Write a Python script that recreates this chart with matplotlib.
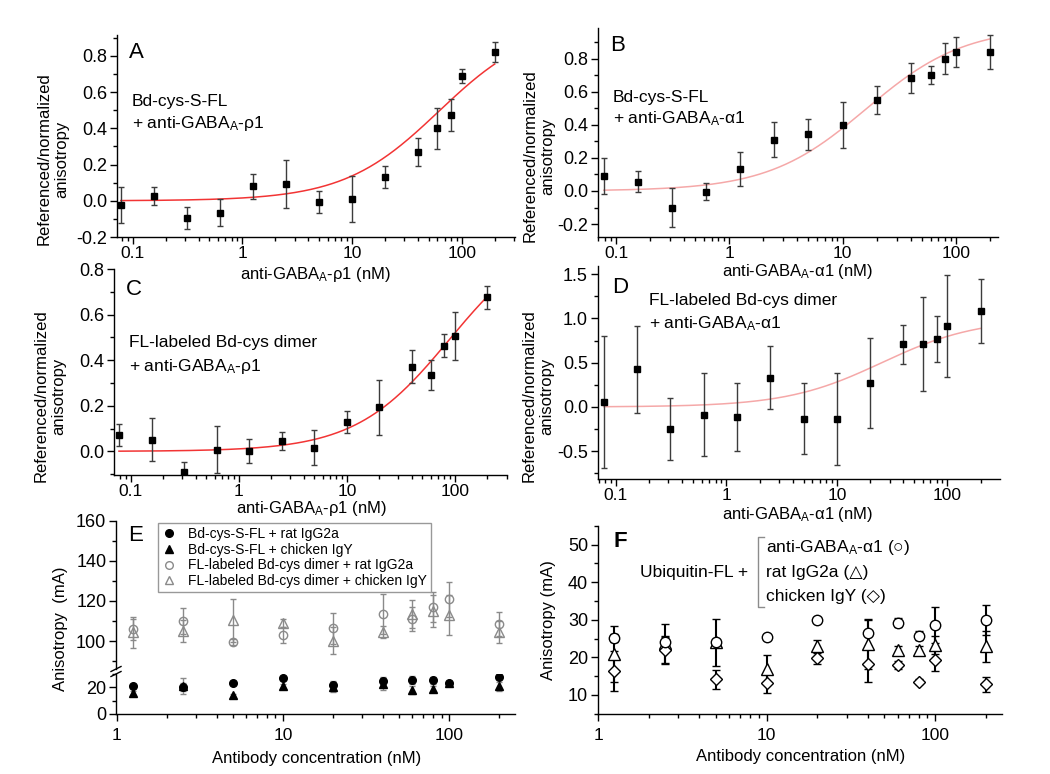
import numpy as np
import matplotlib
matplotlib.use('Agg')
import matplotlib.pyplot as plt
from matplotlib.ticker import FixedLocator, FixedFormatter, MultipleLocator, LogLocator, NullFormatter
from matplotlib.lines import Line2D

plt.rcParams['font.family'] = ['Liberation Sans', 'DejaVu Sans']
plt.rcParams['mathtext.fontset'] = 'custom'
plt.rcParams['mathtext.rm'] = 'Liberation Sans'
plt.rcParams['mathtext.it'] = 'Liberation Sans:italic'
plt.rcParams['axes.linewidth'] = 1.0

# ---------------- data ----------------
conc_titr = [0.078, 0.156, 0.3125, 0.625, 1.25, 2.5, 5, 10, 20, 40, 60, 80, 100, 200]

a_val = [-0.023, 0.029, -0.095, -0.065, 0.080, 0.093, -0.006, 0.010, 0.132, 0.270, 0.400, 0.475, 0.689, 0.822]
a_err = [0.100, 0.050, 0.060, 0.075, 0.068, 0.133, 0.060, 0.125, 0.060, 0.077, 0.113, 0.087, 0.040, 0.057]
a_fit = (0.99, 62.0)   # Bmax, Kd (nM)

b_val = [0.092, 0.056, -0.101, -0.004, 0.133, 0.310, 0.342, 0.399, 0.550, 0.683, 0.703, 0.800, 0.840, 0.840]
b_err = [0.110, 0.063, 0.117, 0.050, 0.100, 0.105, 0.095, 0.137, 0.083, 0.090, 0.055, 0.095, 0.089, 0.105]
b_fit = (0.993, 16.2)

c_val = [0.073, 0.051, -0.089, 0.007, 0.003, 0.045, 0.016, 0.130, 0.193, 0.371, 0.336, 0.464, 0.506, 0.676]
c_err = [0.048, 0.094, 0.041, 0.104, 0.053, 0.038, 0.078, 0.048, 0.121, 0.072, 0.066, 0.052, 0.107, 0.051]
c_fit = (0.984, 89.4)

d_val = [0.056, 0.425, -0.252, -0.086, -0.109, 0.331, -0.135, -0.132, 0.267, 0.707, 0.711, 0.771, 0.910, 1.083]
d_err = [0.750, 0.490, 0.350, 0.470, 0.383, 0.353, 0.400, 0.520, 0.507, 0.218, 0.530, 0.260, 0.575, 0.357]
d_fit = (1.0, 25.5)

conc_ctrl = [1.25, 2.5, 5, 10, 20, 40, 60, 80, 100, 200]

e_s_rat = [21.3, 20.5, 23.5, 26.8, 22.0, 24.5, 25.8, 25.3, 23.0, 27.5]
e_s_rat_err = [1.5, 3.0, 1.5, 1.5, 3.0, 3.0, 3.0, 2.5, 1.5, 1.5]
e_s_chk = [15.8, 21.3, 14.0, 20.8, 20.3, 22.3, 18.0, 18.8, 23.5, 20.8]
e_s_chk_err = [1.5, 6.0, 1.0, 1.5, 3.5, 4.5, 3.0, 2.0, 1.5, 3.5]
e_d_rat = [105.8, 110.0, 99.5, 103.0, 106.3, 113.3, 110.8, 117.1, 120.8, 108.5]
e_d_rat_err = [5.0, 6.3, 1.5, 4.0, 7.5, 10.0, 6.0, 7.5, 8.6, 6.1]
e_d_chk = [104.3, 105.0, 110.3, 108.8, 100.2, 104.5, 113.3, 115.0, 113.0, 104.5]
e_d_chk_err = [7.5, 5.5, 10.5, 2.0, 6.8, 3.0, 7.0, 8.0, 10.0, 5.3]

f_anti = [25.2, 24.0, 24.0, 25.3, 30.0, 26.4, 29.2, 25.7, 28.7, 30.0]
f_anti_err = [1.0, 1.5, 1.0, 0.8, 0.8, 3.5, 1.2, 1.2, 4.8, 4.0]
f_rat = [20.8, 23.7, 24.0, 17.0, 23.1, 23.5, 21.9, 22.0, 23.3, 22.9]
f_rat_err = [7.4, 5.1, 6.3, 3.5, 1.6, 6.7, 1.0, 1.0, 2.3, 4.1]
f_chk = [16.4, 21.9, 14.1, 13.2, 19.7, 18.2, 17.9, 13.5, 19.3, 12.8]
f_chk_err = [5.3, 3.8, 2.4, 2.7, 1.5, 4.8, 1.0, 0.7, 3.0, 1.9]

W, H = 1050, 774
fig = plt.figure(figsize=(W / 100, H / 100), dpi=100)

YTS = 13     # y tick label size
XTS = 12.5   # x tick label size
LBS = 12     # axis label size
TFS = 12.5   # annotation size


def add_ax(left, top, right, bottom):
    return fig.add_axes([left / W, 1 - bottom / H, (right - left) / W, (bottom - top) / H])


def style(ax, xlim, ylim, major, minor, xt, xtl):
    ax.set_xscale('log')
    ax.set_xlim(*xlim)
    ax.set_ylim(*ylim)
    for s in ('top', 'right'):
        ax.spines[s].set_visible(False)
    ax.xaxis.set_major_locator(FixedLocator(xt))
    ax.xaxis.set_major_formatter(FixedFormatter(xtl))
    ax.xaxis.set_minor_locator(LogLocator(base=10, subs=np.arange(2, 10), numticks=20))
    ax.xaxis.set_minor_formatter(NullFormatter())
    ax.yaxis.set_major_locator(MultipleLocator(major))
    ax.yaxis.set_minor_locator(MultipleLocator(minor))
    ax.tick_params(which='major', direction='out', length=5, width=1, pad=2)
    ax.tick_params(which='minor', direction='out', length=3, width=1)
    ax.tick_params(axis='y', which='major', labelsize=YTS)
    ax.tick_params(axis='x', which='major', labelsize=XTS, pad=1.5)


def yfmt(ax):
    ax.yaxis.set_major_formatter(matplotlib.ticker.FuncFormatter(lambda v, p: f'{v:.1f}'))


xfit = np.logspace(np.log10(conc_titr[0]), np.log10(conc_titr[-1]), 300)


def titration(ax, vals, errs, fit, color):
    bmax, kd = fit
    ax.plot(xfit, bmax * xfit / (kd + xfit), color=color, lw=1.1, zorder=2)
    ax.errorbar(conc_titr, vals, yerr=errs, fmt='s', ms=4.5, color='black', ecolor='#3c3c3c',
                elinewidth=1.0, capsize=2.5, capthick=1.0, zorder=3)


red = '#f23434'
pink = '#f5a8a8'
xt_t = [0.1, 1, 10, 100]
xtl_t = ['0.1', '1', '10', '100']
ylab = 'Referenced/normalized\nanisotropy'

# ---- A ----
axA = add_ax(117, 35, 515, 237)
titration(axA, a_val, a_err, a_fit, red)
style(axA, (0.072, 306), (-0.2, 0.916), 0.2, 0.1, xt_t, xtl_t)
yfmt(axA)
axA.text(0.03, 0.965, 'A', transform=axA.transAxes, fontsize=16, va='top', ha='left')
axA.text(0.037, 0.649, 'Bd-cys-S-FL', transform=axA.transAxes, fontsize=TFS, va='baseline')
axA.text(0.037, 0.538, '+ anti-GABA$_\\mathregular{A}$-ρ1', transform=axA.transAxes, fontsize=TFS, va='baseline')
fig.text(53 / W, 1 - 159 / H, ylab, rotation=90, ha='center', va='center', fontsize=LBS, multialignment='center')
fig.text(315 / W, 1 - 274 / H, 'anti-GABA$_\\mathregular{A}$-ρ1 (nM)', ha='center', va='center', fontsize=LBS)

# ---- B ----
axB = add_ax(598, 28.3, 998, 237.3)
titration(axB, b_val, b_err, b_fit, pink)
style(axB, (0.0693, 236), (-0.28, 0.983), 0.2, 0.1, xt_t, xtl_t)
yfmt(axB)
axB.text(0.031, 0.968, 'B', transform=axB.transAxes, fontsize=16, va='top', ha='left')
axB.text(0.037, 0.649, 'Bd-cys-S-FL', transform=axB.transAxes, fontsize=TFS, va='baseline')
axB.text(0.037, 0.545, '+ anti-GABA$_\\mathregular{A}$-α1', transform=axB.transAxes, fontsize=TFS, va='baseline')
fig.text(539 / W, 1 - 156 / H, ylab, rotation=90, ha='center', va='center', fontsize=LBS, multialignment='center')
fig.text(798 / W, 1 - 271.7 / H, 'anti-GABA$_\\mathregular{A}$-α1 (nM)', ha='center', va='center', fontsize=LBS)

# ---- C ----
axC = add_ax(114.3, 269, 507.3, 475.3)
titration(axC, c_val, c_err, c_fit, red)
style(axC, (0.0706, 305), (-0.105, 0.8), 0.2, 0.1, xt_t, xtl_t)
yfmt(axC)
axC.text(0.03, 0.95, 'C', transform=axC.transAxes, fontsize=16, va='top', ha='left')
axC.text(0.038, 0.62, 'FL-labeled Bd-cys dimer', transform=axC.transAxes, fontsize=TFS, va='baseline')
axC.text(0.038, 0.507, '+ anti-GABA$_\\mathregular{A}$-ρ1', transform=axC.transAxes, fontsize=TFS, va='baseline')
fig.text(50 / W, 1 - 396 / H, ylab, rotation=90, ha='center', va='center', fontsize=LBS, multialignment='center')
fig.text(311 / W, 1 - 509 / H, 'anti-GABA$_\\mathregular{A}$-ρ1 (nM)', ha='center', va='center', fontsize=LBS)

# ---- D ----
axD = add_ax(597.7, 265.7, 1000, 479.3)
titration(axD, d_val, d_err, d_fit, pink)
style(axD, (0.0687, 299), (-0.816, 1.594), 0.5, 0.25, xt_t, xtl_t)
yfmt(axD)
axD.text(0.037, 0.946, 'D', transform=axD.transAxes, fontsize=16, va='top', ha='left')
axD.text(0.128, 0.816, 'FL-labeled Bd-cys dimer', transform=axD.transAxes, fontsize=TFS, va='baseline')
axD.text(0.128, 0.707, '+ anti-GABA$_\\mathregular{A}$-α1', transform=axD.transAxes, fontsize=TFS, va='baseline')
fig.text(538 / W, 1 - 396 / H, ylab, rotation=90, ha='center', va='center', fontsize=LBS, multialignment='center')
fig.text(798 / W, 1 - 514 / H, 'anti-GABA$_\\mathregular{A}$-α1 (nM)', ha='center', va='center', fontsize=LBS)

# ---- E (broken axis) ----
xt_c = [1, 10, 100]
xtl_c = ['1', '10', '100']
axEt = add_ax(116, 520.7, 515, 669)
axEb = add_ax(116, 674, 515, 714)
gray = '#8a8a8a'
axEt.errorbar(conc_ctrl, e_d_rat, yerr=e_d_rat_err, fmt='o', ms=6, mfc='none', mec=gray, ecolor=gray,
              elinewidth=1.0, capsize=2.5, capthick=1.0, mew=1.0)
axEt.errorbar(conc_ctrl, e_d_chk, yerr=e_d_chk_err, fmt='^', ms=6.5, mfc='none', mec=gray, ecolor=gray,
              elinewidth=1.0, capsize=2.5, capthick=1.0, mew=1.0)
axEb.errorbar(conc_ctrl, e_s_rat, yerr=e_s_rat_err, fmt='o', ms=5.5, color='black', ecolor=gray,
              elinewidth=1.0, capsize=2.5, capthick=1.0)
axEb.errorbar(conc_ctrl, e_s_chk, yerr=e_s_chk_err, fmt='^', ms=5.5, color='black', ecolor=gray,
              elinewidth=1.0, capsize=2.5, capthick=1.0)
style(axEt, (0.99, 249), (86.1, 160), 20, 10, xt_c, xtl_c)
style(axEb, (0.99, 249), (0, 30), 20, 10, xt_c, xtl_c)
axEt.spines['bottom'].set_visible(False)
axEt.tick_params(axis='x', which='both', bottom=False, labelbottom=False)
axEb.tick_params(axis='x', which='major', pad=5)
axEt.text(0.031, 0.97, 'E', transform=axEt.transAxes, fontsize=16, va='top', ha='left')
# break marks
for dy in (-2.5, 2.5):
    yc = 671.5 + dy
    fig.add_artist(Line2D([(116 - 5) / W, (116 + 5) / W], [1 - (yc + 2.5) / H, 1 - (yc - 2.5) / H],
                          color='black', lw=1.0, transform=fig.transFigure))
leg_handles = [
    Line2D([], [], ls='none', marker='o', ms=5.5, color='black'),
    Line2D([], [], ls='none', marker='^', ms=5.5, color='black'),
    Line2D([], [], ls='none', marker='o', ms=5.5, mfc='none', mec=gray),
    Line2D([], [], ls='none', marker='^', ms=5.5, mfc='none', mec=gray),
]
leg_labels = ['Bd-cys-S-FL + rat IgG2a', 'Bd-cys-S-FL + chicken IgY',
              'FL-labeled Bd-cys dimer + rat IgG2a', 'FL-labeled Bd-cys dimer + chicken IgY']
leg = axEt.legend(leg_handles, leg_labels, loc='upper left', bbox_to_anchor=(0.105, 0.985), fontsize=10,
                  frameon=True, fancybox=False, edgecolor='#999999', framealpha=1, borderpad=0.3,
                  handlelength=1.0, handletextpad=0.9, labelspacing=0.12, borderaxespad=0)
leg.get_frame().set_linewidth(1.0)
fig.text(60 / W, 1 - 629 / H, 'Anisotropy  (mA)', rotation=90, ha='center', va='center', fontsize=LBS)
fig.text(316.7 / W, 1 - 758.3 / H, 'Antibody concentration (nM)', ha='center', va='center', fontsize=LBS)

# ---- F ----
axF = add_ax(597.7, 525.7, 1002.3, 713.7)
kw = dict(mfc='white', mec='black', ecolor='black', elinewidth=1.5, capsize=3, capthick=1.5, mew=1.0, ls='none')
axF.errorbar(conc_ctrl, f_rat, yerr=f_rat_err, marker='^', ms=8, zorder=3, **kw)
axF.errorbar(conc_ctrl, f_chk, yerr=f_chk_err, marker='D', ms=6.5, zorder=3, **kw)
axF.errorbar(conc_ctrl, f_anti, yerr=f_anti_err, marker='o', ms=7.5, zorder=3, **kw)
style(axF, (0.995, 251), (5, 55), 10, 5, xt_c, xtl_c)
axF.tick_params(axis='x', which='major', pad=5)
axF.text(0.039, 0.973, 'F', transform=axF.transAxes, fontsize=16, fontweight='bold', va='top', ha='left')
axF.text(0.1045, 0.75, 'Ubiquitin-FL +', transform=axF.transAxes, fontsize=TFS, va='center', ha='left')
axF.plot([0.41, 0.3955, 0.3955, 0.41], [0.9415, 0.9415, 0.566, 0.566], color='#8c8c8c', lw=1.0,
         transform=axF.transAxes, clip_on=False)
lx = (765.7 - 597.7) / 404.6
axF.text(lx, 0.885, 'anti-GABA$_\\mathregular{A}$-α1 (○)', transform=axF.transAxes, fontsize=TFS, va='center', ha='left')
axF.text(lx, 0.75, 'rat IgG2a (△)', transform=axF.transAxes, fontsize=TFS, va='center', ha='left')
axF.text(lx, 0.626, 'chicken IgY (◇)', transform=axF.transAxes, fontsize=TFS, va='center', ha='left')
fig.text(549 / W, 1 - 620 / H, 'Anisotropy (mA)', rotation=90, ha='center', va='center', fontsize=LBS)
fig.text(800.7 / W, 1 - 756.7 / H, 'Antibody concentration (nM)', ha='center', va='center', fontsize=LBS)

fig.savefig('out.png', dpi=100)
